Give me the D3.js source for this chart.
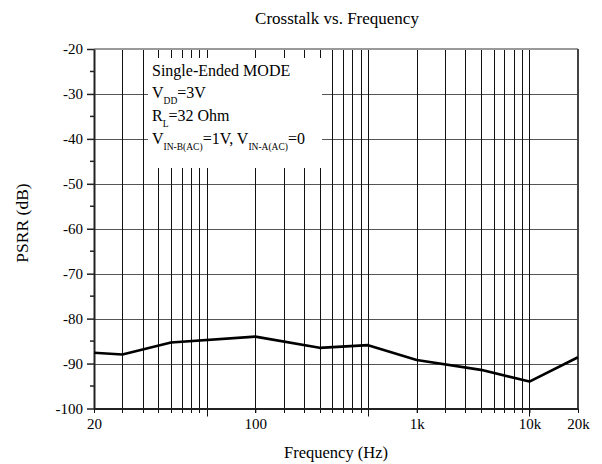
<!DOCTYPE html>
<html><head><meta charset="utf-8">
<script src="https://cdn.jsdelivr.net/npm/d3@7"></script>
<style>
html,body{margin:0;padding:0;background:#fff;}
svg text{font-family:"Liberation Serif",Tinos,"Times New Roman",Times,"DejaVu Serif",serif !important;fill:#000;}
</style></head>
<body><svg id="c" width="602" height="464"></svg>
<script>
// ---- data ----
const freqs = [20, 30, 60, 200, 500, 1000, 2000, 5000, 10000, 20000];
const psrr  = [-87.6, -88.0, -85.3, -84.0, -86.5, -85.9, -89.2, -91.4, -94.0, -88.6];
const xTickValues = [20, 200, 2000, 10000, 20000];
const xTickLabels = ["20", "100", "1k", "10k", "20k"];
const yTickValues = [-100, -90, -80, -70, -60, -50, -40, -30, -20];
const yMinorValues = [-95, -85, -75, -65, -55, -45, -35, -25];
const title = "Crosstalk vs. Frequency";
const xTitle = "Frequency (Hz)";
const yTitle = "PSRR (dB)";

// ---- layout ----
const L = 94, R = 578, T = 49, B = 408.5;
const svg = d3.select("#c");
const x = d3.scaleLog().domain([20, 20000]).range([L, R]);
const y = d3.scaleLinear().domain([-100, -20]).range([B, T]);

// vertical grid values (each decade's 1..9 multiples)
const vGrid = [];
[10, 100, 1000, 10000].forEach(d => { for (let m = 1; m <= 9; m++) { const v = d * m; if (v > 20 && v < 20000) vGrid.push(v); } });
const decades = [100, 1000, 10000];

// horizontal grid
svg.append("g").selectAll("line").data(yTickValues.filter(v => v > -100 && v < -20)).join("line")
  .attr("x1", L).attr("x2", R).attr("y1", d => Math.round(y(d)) + 0.5).attr("y2", d => Math.round(y(d)) + 0.5)
  .attr("stroke", "#555").attr("stroke-width", 1.2);
// vertical grid
svg.append("g").selectAll("line").data(vGrid).join("line")
  .attr("x1", d => Math.round(x(d)) + 0.5).attr("x2", d => Math.round(x(d)) + 0.5)
  .attr("y1", T).attr("y2", d => B + (decades.includes(d) ? 8 : 4.5))
  .attr("stroke", "#111").attr("stroke-width", 1);

// legend box (white, covers grid)
svg.append("rect").attr("x", 148).attr("y", 58).attr("width", 174).attr("height", 110).attr("fill", "#fff");

// frame
svg.append("line").attr("x1", L).attr("x2", R).attr("y1", T).attr("y2", T).attr("stroke", "#999").attr("stroke-width", 2);
svg.append("line").attr("x1", R).attr("x2", R).attr("y1", T).attr("y2", B).attr("stroke", "#444").attr("stroke-width", 2);

// x axis
const xAxis = d3.axisBottom(x).tickValues(xTickValues).tickFormat((d, i) => xTickLabels[i]).tickSizeInner(4.5).tickSizeOuter(0).tickPadding(5);
const gx = svg.append("g").attr("transform", `translate(0,${B})`).call(xAxis);
gx.attr("font-family", null);
gx.select(".domain").attr("stroke", "#222").attr("stroke-width", 2);
gx.selectAll(".tick line").attr("stroke", "#111");
gx.selectAll("text").attr("font-size", 15).attr("fill", "#000");

// y axis
const yAxis = d3.axisLeft(y).tickValues(yTickValues).tickFormat(d => String(d)).tickSizeInner(7).tickSizeOuter(0).tickPadding(4);
const gy = svg.append("g").attr("transform", `translate(${L},0)`).call(yAxis);
gy.attr("font-family", null);
gy.select(".domain").attr("stroke", "#222").attr("stroke-width", 2);
gy.selectAll(".tick line").attr("stroke", "#222").attr("stroke-width", 1.5);
gy.selectAll("text").attr("font-size", 15).attr("fill", "#000");
svg.append("g").selectAll("line").data(yMinorValues).join("line")
  .attr("x1", L - 4).attr("x2", L).attr("y1", d => y(d)).attr("y2", d => y(d))
  .attr("stroke", "#222").attr("stroke-width", 1.5);

// data line
svg.append("path").datum(freqs.map((f, i) => [f, psrr[i]]))
  .attr("d", d3.line().x(d => x(d[0])).y(d => y(d[1])))
  .attr("fill", "none").attr("stroke", "#000").attr("stroke-width", 2.6).attr("stroke-linejoin", "round");

// titles
svg.append("text").attr("x", 337).attr("y", 24).attr("text-anchor", "middle").attr("font-size", 17).text(title);
svg.append("text").attr("x", 336).attr("y", 458).attr("text-anchor", "middle").attr("font-size", 16.5).text(xTitle);
svg.append("text").attr("transform", "translate(28,223) rotate(-90)").attr("text-anchor", "middle").attr("font-size", 17.5).text(yTitle);

// legend text
const lx = 152, fs = 16, sub = 9.5;
svg.append("text").attr("x", lx).attr("y", 75.5).attr("font-size", fs).text("Single-Ended MODE");
function addRich(yb, parts) {
  const t = svg.append("text").attr("x", lx).attr("y", yb).attr("font-size", fs);
  parts.forEach(p => {
    t.append("tspan").attr("font-size", p.s ? sub : fs).attr("dy", p.s ? 6 : (p.back ? -6 : 0)).text(p.t);
  });
}
addRich(97.5, [{t: "V"}, {t: "DD", s: 1}, {t: "=3V", back: 1}]);
addRich(121, [{t: "R"}, {t: "L", s: 1}, {t: "=32 Ohm", back: 1}]);
addRich(144, [{t: "V"}, {t: "IN-B(AC)", s: 1}, {t: "=1V, V", back: 1}, {t: "IN-A(AC)", s: 1}, {t: "=0", back: 1}]);
</script></body></html>
